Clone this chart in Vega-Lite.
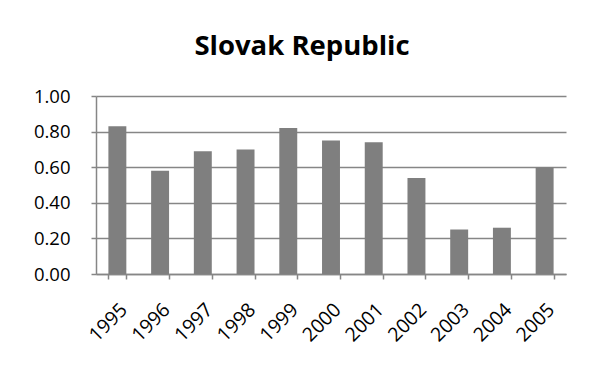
{
  "$schema": "https://vega.github.io/schema/vega-lite/v6.json",
  "autosize": {"type": "none"},
  "width": 470,
  "height": 178,
  "padding": {"left": 96, "top": 96, "right": 29, "bottom": 102},
  "background": "white",
  "title": {
    "text": "Slovak Republic",
    "font": "Open Sans",
    "fontSize": 27.5,
    "fontWeight": "bold",
    "color": "#000000",
    "anchor": "middle",
    "frame": "group",
    "dx": -29,
    "baseline": "alphabetic",
    "offset": 5
  },
  "data": {
    "values": [
      {"year": "1995", "value": 0.83},
      {"year": "1996", "value": 0.58},
      {"year": "1997", "value": 0.69},
      {"year": "1998", "value": 0.70},
      {"year": "1999", "value": 0.82},
      {"year": "2000", "value": 0.75},
      {"year": "2001", "value": 0.74},
      {"year": "2002", "value": 0.54},
      {"year": "2003", "value": 0.25},
      {"year": "2004", "value": 0.26},
      {"year": "2005", "value": 0.60}
    ]
  },
  "mark": {"type": "bar", "color": "#7f7f7f"},
  "encoding": {
    "x": {
      "field": "year",
      "type": "ordinal",
      "title": null,
      "scale": {"paddingInner": 0.58, "paddingOuter": 0.29},
      "axis": {
        "labelAngle": -45,
        "labelAlign": "right",
        "labelBaseline": "top",
        "labelFont": "Open Sans",
        "labelFontSize": 19.5,
        "labelColor": "#000000",
        "labelPadding": 21,
        "tickBand": "extent",
        "tickSize": 5,
        "tickColor": "#868686",
        "tickWidth": 1.5,
        "domainColor": "#868686",
        "domainWidth": 1.5,
        "grid": false
      }
    },
    "y": {
      "field": "value",
      "type": "quantitative",
      "title": null,
      "scale": {"domain": [0, 1], "nice": false},
      "axis": {
        "values": [0, 0.2, 0.4, 0.6, 0.8, 1.0],
        "format": ".2f",
        "labelFont": "Open Sans",
        "labelFontSize": 18.5,
        "labelColor": "#000000",
        "labelPadding": 21,
        "tickSize": 5,
        "tickColor": "#868686",
        "tickWidth": 1.5,
        "domainColor": "#868686",
        "domainWidth": 1.5,
        "grid": true,
        "gridColor": "#868686",
        "gridWidth": 1.5
      }
    }
  },
  "config": {"view": {"stroke": null}}
}
